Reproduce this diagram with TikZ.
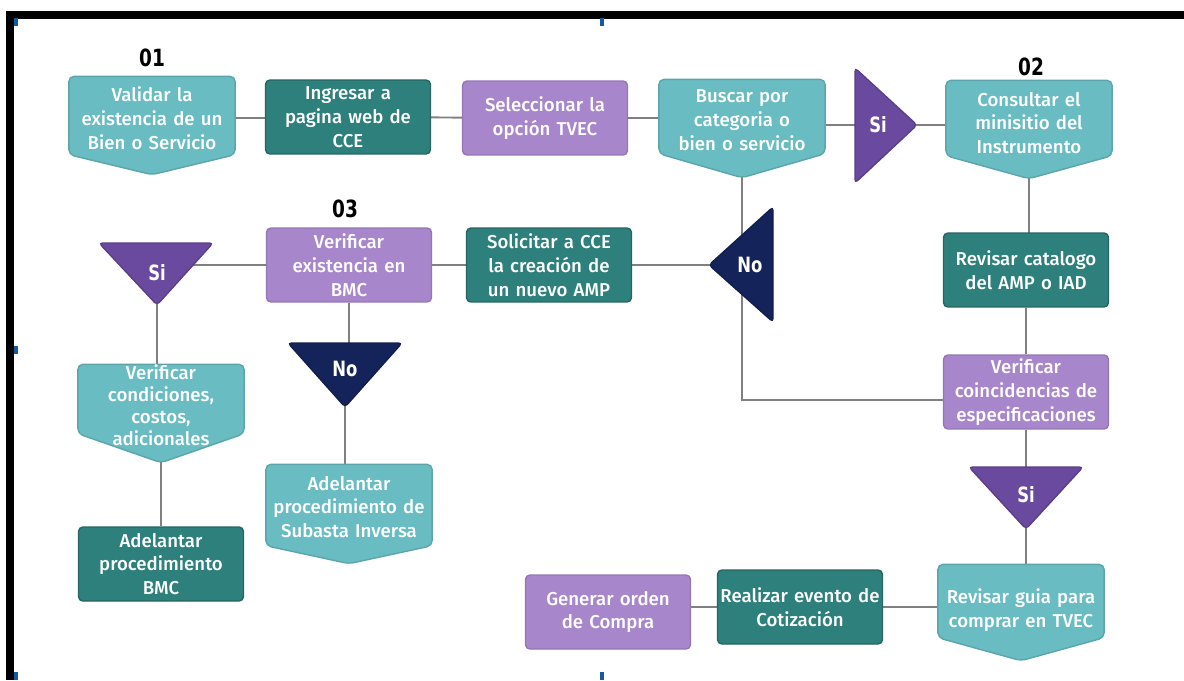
\documentclass[tikz,border=0pt]{standalone}
\usepackage{fontspec}
\usepackage{xcolor}
\usepackage{tikz}
\usetikzlibrary{positioning}
\newfontfamily\boxfont{Fira Sans Medium}
\newfontfamily\numfont{DejaVu Sans}[FakeStretch=0.78]
\definecolor{lightteal}{RGB}{104,188,194}
\definecolor{darkteal}{RGB}{46,128,124}
\definecolor{lilac}{RGB}{168,134,204}
\definecolor{deeppurple}{RGB}{106,74,158}
\definecolor{navy}{RGB}{20,36,90}
\definecolor{linegray}{RGB}{128,128,128}
\definecolor{markblue}{RGB}{20,90,160}
\pgfdeclarelayer{nodelayer}
\pgfdeclarelayer{edgelayer}
\pgfsetlayers{edgelayer,nodelayer,main}
\tikzset{
    box/.style = {rectangle, rounded corners=2.5pt, minimum width=3.3cm, minimum height=1.48cm,
        text width=3.25cm, align=center, inner sep=0pt, text=white,
        font=\boxfont\fontsize{10.6}{13.6}\selectfont, line width=0.8pt},
    darkbox/.style = {box, fill=darkteal, draw=darkteal!80!black},
    lilacbox/.style = {box, fill=lilac, draw=lilac!88!black},
    pentbox/.style = {box},
    pentfill/.style = {fill=lightteal, draw=lightteal!88!black, line width=0.8pt, rounded corners=3pt},
    sifill/.style = {fill=deeppurple, draw=deeppurple!85!black, line width=0.8pt, rounded corners=2pt},
    nofill/.style = {fill=navy, draw=navy!85!black, line width=0.8pt, rounded corners=2pt},
    tritext/.style = {inner sep=0pt, text=white, font=\numfont\bfseries\fontsize{12}{14}\selectfont},
    numtext/.style = {inner sep=0pt, font=\numfont\bfseries\fontsize{13.5}{16}\selectfont},
    link/.style = {draw=linegray, line width=1.1pt}
}
\begin{document}
\begin{tikzpicture}[x=0.02cm, y=-0.02cm]
    \useasboundingbox (0,0) rectangle (1184,680);
    % frame
    \fill[black] (6,11) rectangle (1184,19);
    \fill[black] (6,11) rectangle (14,680);
    \foreach \mx/\my in {16/22, 602/22, 16/350, 16/676, 602/676}
        \fill[markblue] (\mx-2,\my-4) rectangle (\mx+2,\my+4);

    % step numbers
    \node[numtext] (n01) at (152,58) {01};
    \node[numtext] (n02) at (1031,67) {02};
    \node[numtext] (n03) at (345,209) {03};

    % top row
    \node[pentbox, minimum height=1.54cm] (val) at (152,118) {Validar la\\existencia de un\\Bien o Servicio};
    \node[darkbox] (ing) at (348,117) {Ingresar a\\pagina web de\\CCE};
    \node[lilacbox] (sel) at (545,118) {Seleccionar la\\opción TVEC};
    \node[pentbox, minimum height=1.46cm] (bus) at (742,120) {Buscar por\\categoria o\\bien o servicio};
    \node[tritext] (siA) at (878,125) {Si};
    \node[pentbox] (con) at (1029,123) {Consultar el\\minisitio del\\Instrumento};

    % right column
    \node[darkbox] (cat) at (1026,270) {Revisar catalogo\\del AMP o IAD};
    \node[lilacbox] (coi) at (1026,392) {Verificar\\coincidencias de\\especificaciones};
    \node[tritext] (siB) at (1026,495) {Si};
    \node[pentbox, minimum height=1.44cm] (gui) at (1021,610) {Revisar guia para\\comprar en TVEC};
    \node[darkbox] (eve) at (800,607) {Realizar evento de\\Cotización};
    \node[lilacbox] (gen) at (608,612) {Generar orden\\de Compra};

    % middle row
    \node[tritext] (noA) at (750,265) {No};
    \node[darkbox] (sol) at (549,265) {Solicitar a CCE\\la creación de\\un nuevo AMP};
    \node[lilacbox] (ver) at (349,265) {Verificar\\existencia en\\BMC};
    \node[tritext] (siC) at (157,273) {Si};
    \node[pentbox, minimum height=1.36cm, inner ysep=-12pt,
        font=\boxfont\fontsize{10.6}{12.5}\selectfont] (cnd) at (161,405) {Verificar\\condiciones,\\costos,\\adicionales};
    \node[darkbox] (bmc) at (161,564) {Adelantar\\procedimiento\\BMC};
    \node[tritext] (noB) at (345,369) {No};
    \node[pentbox, minimum height=1.6cm] (sub) at (349,507) {Adelantar\\procedimiento de\\Subasta Inversa};
    \coordinate (back) at (742,400);

    \begin{pgfonlayer}{nodelayer}
        % pointed boxes: name / tip depth / lift of the box against its text
        \foreach \n/\d/\s in {val/0.4/0.05, bus/0.48/0.07, con/0.46/0.1, gui/0.46/0.18, cnd/0.58/0.12, sub/0.36/0.04}
            \filldraw[pentfill] ([yshift=\s cm]\n.north west) -- ([yshift=\s cm]\n.north east)
                -- ([yshift=\s cm]\n.south east) -- ([yshift={(\s-\d)*1cm}]\n.south)
                -- ([yshift=\s cm]\n.south west) -- cycle;
        % decision triangles
        \filldraw[sifill] (855,68) -- (917,125) -- (855,183) -- cycle;
        \filldraw[sifill] (969,467) -- (1083,467) -- (1026,529) -- cycle;
        \filldraw[sifill] (99,243) -- (213,243) -- (157,305) -- cycle;
        \filldraw[nofill] (773,207) -- (773,322) -- (709,265) -- cycle;
        \filldraw[nofill] (288,343) -- (402,343) -- (345,407) -- cycle;
    \end{pgfonlayer}

    \begin{pgfonlayer}{edgelayer}
        \draw[link] (val) -- (val -| ing);
        \draw[link] (ing) -- (sel);
        \draw[link] (sel) -- (sel -| bus);
        \draw[link] (siA) -- (siA -| bus);
        \draw[link] (siA) -- (siA -| con);
        \draw[link] (con) -- (con |- cat);
        \draw[link] (cat) -- (coi);
        \draw[link] (coi) -- (siB);
        \draw[link] (siB) -- (siB |- gui);
        \draw[link] (eve) -- (eve -| gui);
        \draw[link] (eve) -- (eve -| gen);
        % back loop through No
        \draw[link] (bus) -- (back) -- (back -| coi);
        \draw[link] (noA) -- (sol);
        \draw[link] (sol) -- (ver);
        \draw[link] (ver) -- (ver -| siC);
        \draw[link] (siC) -- (siC |- cnd);
        \draw[link] (cnd) -- (bmc);
        \draw[link] (ver) -- (ver |- noB);
        \draw[link] (noB) -- (noB |- sub);
    \end{pgfonlayer}
\end{tikzpicture}
\end{document}
